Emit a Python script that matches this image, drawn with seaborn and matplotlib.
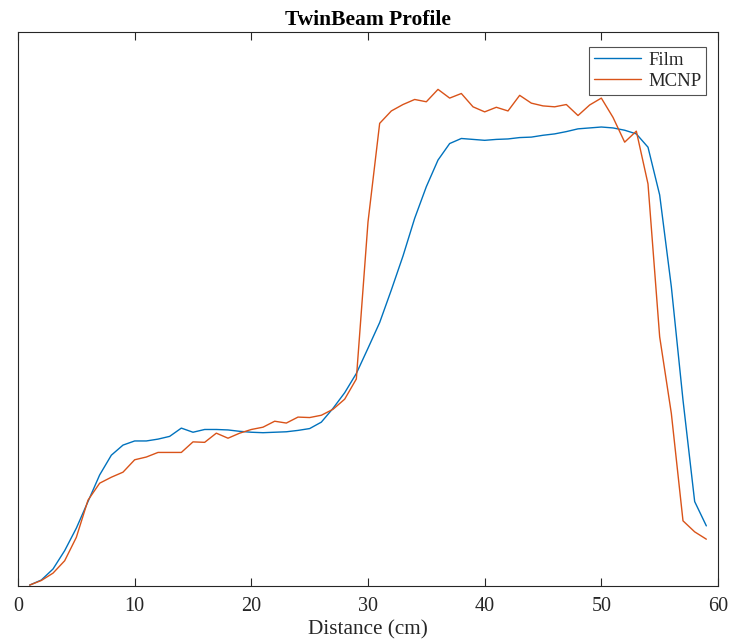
import numpy as np
import pandas as pd
import matplotlib
matplotlib.use("Agg")
import matplotlib.pyplot as plt
import seaborn as sns

# Distance along the profile (cm)
distance = list(range(1, 60))

# Relative dose from film measurement
film = [0.002, 0.013, 0.037, 0.077, 0.126, 0.184, 0.242, 0.285, 0.307, 0.316,
        0.316, 0.320, 0.326, 0.344, 0.335, 0.341, 0.341, 0.340, 0.337, 0.335,
        0.334, 0.335, 0.336, 0.339, 0.343, 0.357, 0.387, 0.421, 0.463, 0.518,
        0.574, 0.645, 0.719, 0.801, 0.870, 0.928, 0.964, 0.975, 0.973, 0.971,
        0.973, 0.974, 0.977, 0.978, 0.982, 0.985, 0.990, 0.996, 0.998, 1.000,
        0.998, 0.993, 0.985, 0.956, 0.852, 0.652, 0.405, 0.184, 0.131]

# Relative dose from MCNP simulation
mcnp = [0.002, 0.012, 0.028, 0.055, 0.106, 0.187, 0.224, 0.237, 0.248, 0.275,
        0.281, 0.291, 0.291, 0.291, 0.314, 0.313, 0.333, 0.322, 0.333, 0.341,
        0.346, 0.359, 0.355, 0.368, 0.367, 0.372, 0.385, 0.407, 0.451, 0.793,
        1.008, 1.035, 1.049, 1.060, 1.055, 1.082, 1.063, 1.073, 1.044, 1.033,
        1.043, 1.035, 1.069, 1.052, 1.046, 1.044, 1.049, 1.025, 1.048, 1.063,
        1.021, 0.967, 0.991, 0.876, 0.543, 0.376, 0.142, 0.118, 0.102]

series_names = ["Film", "MCNP"]
series_colors = ["#0072BD", "#D95319"]
x_ticks = [0, 10, 20, 30, 40, 50, 60]

df = pd.DataFrame({
    "Distance": distance * 2,
    "Dose": film + mcnp,
    "Source": [series_names[0]] * len(film) + [series_names[1]] * len(mcnp),
})

sns.set_theme(style="white")
plt.rcParams["font.family"] = ["Liberation Serif", "DejaVu Serif"]

fig = plt.figure(figsize=(7.29, 6.4), dpi=100)
ax = fig.add_axes([18 / 729, 1 - 586 / 640, 700 / 729, 554 / 640])

sns.lineplot(data=df, x="Distance", y="Dose", hue="Source",
             palette=series_colors, hue_order=series_names,
             linewidth=1.0, ax=ax, legend=True)

ax.set_xlim(0, 60)
ax.set_ylim(0, 1.207)
ax.set_xticks(x_ticks)
ax.set_xticklabels([str(t) for t in x_ticks])
ax.set_yticks([])
ax.tick_params(axis="x", direction="in", length=6, width=0.8, top=True,
               bottom=True, labelsize=14.5, pad=8, color="#262626",
               labelcolor="#262626")
for s in ax.spines.values():
    s.set_linewidth(0.8)
    s.set_color("#262626")
    s.set_visible(True)

ax.set_xlabel("Distance (cm)", fontsize=15.3, color="#262626", labelpad=3)
ax.set_ylabel("")
ax.set_title("TwinBeam Profile", fontsize=15.5, fontweight="bold", pad=5,
             color="black")

leg = ax.legend(loc="upper right", bbox_to_anchor=(0.983, 0.973),
                frameon=True, fancybox=False, fontsize=13.5,
                handlelength=2.5, borderpad=0.25, labelspacing=0.22,
                handletextpad=0.4, borderaxespad=0)
leg.get_frame().set_edgecolor("#262626")
leg.get_frame().set_linewidth(0.8)

fig.savefig("out.png", dpi=100)
